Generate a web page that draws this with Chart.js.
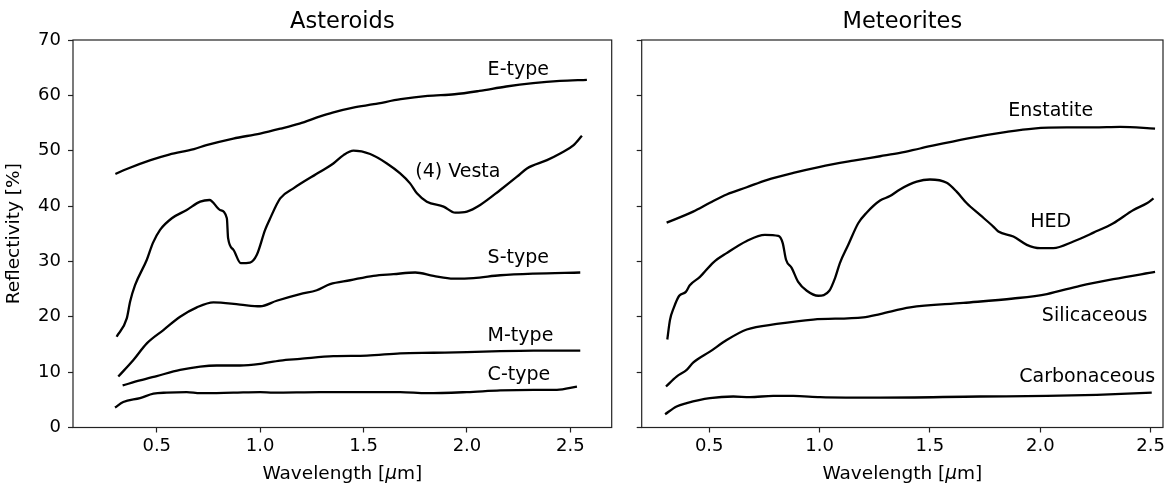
<!DOCTYPE html>
<html>
<head>
<meta charset="utf-8">
<script src="https://cdn.jsdelivr.net/npm/chart.js@4.4.1/dist/chart.umd.min.js"></script>
<style>
  html, body { margin: 0; padding: 0; background: #fff; }
  #wrap { position: relative; width: 1173px; height: 488px; }
  canvas { position: absolute; top: 0; }
  #asteroids { left: 0; }
  #meteorites { left: 625px; }
</style>
</head>
<body>
<div id="wrap">
  <canvas id="asteroids" width="625" height="488"></canvas>
  <canvas id="meteorites" width="548" height="488"></canvas>
</div>
<script>
// tick labels
const wavelengthTicks = [0.5, 1.0, 1.5, 2.0, 2.5];
const reflectivityTicks = [0, 10, 20, 30, 40, 50, 60, 70];

// --- Asteroids (left panel) ---
const eTypeWl   = [0.30, 0.355, 0.47, 0.56, 0.68, 0.74, 0.87, 1.0, 1.1, 1.19, 1.29, 1.35, 1.45, 1.55, 1.68, 1.81, 1.94, 2.06, 2.19, 2.32, 2.45, 2.58];
const eTypeRefl = [45.8, 46.7, 48.3, 49.3, 50.3, 51.0, 52.2, 53.1, 54.0, 54.9, 56.2, 56.9, 57.8, 58.4, 59.3, 59.9, 60.2, 60.8, 61.6, 62.2, 62.6, 62.8];

const vestaWl   = [0.306, 0.355, 0.371, 0.395, 0.452, 0.481, 0.516, 0.573, 0.645, 0.71, 0.755, 0.806, 0.839, 0.845, 0.871, 0.906, 0.951, 0.984, 1.024, 1.045, 1.097, 1.161, 1.29, 1.354, 1.403, 1.451, 1.532, 1.613, 1.677, 1.725, 1.758, 1.806, 1.887, 1.943, 2.0, 2.064, 2.161, 2.242, 2.29, 2.387, 2.451, 2.516, 2.556];
const vestaRefl = [16.4, 19.7, 22.7, 25.7, 30.3, 33.3, 35.7, 37.8, 39.3, 40.8, 41.1, 39.3, 37.8, 34.2, 32.1, 29.7, 29.8, 31.2, 35.7, 37.5, 41.4, 43.2, 46.2, 47.7, 49.2, 50.0, 49.4, 47.7, 45.9, 44.1, 42.3, 40.8, 39.9, 38.8, 39.0, 40.2, 42.9, 45.3, 46.8, 48.3, 49.5, 51.0, 52.7];

const sTypeWl   = [0.314, 0.387, 0.452, 0.532, 0.613, 0.694, 0.774, 0.903, 1.0, 1.08, 1.193, 1.274, 1.338, 1.435, 1.548, 1.645, 1.75, 1.838, 1.935, 2.032, 2.161, 2.322, 2.548];
const sTypeRefl = [9.2, 12.2, 15.2, 17.6, 20.0, 21.7, 22.6, 22.2, 21.9, 22.9, 24.1, 24.8, 25.9, 26.6, 27.4, 27.7, 28.0, 27.4, 26.9, 27.0, 27.5, 27.8, 28.0];

const mTypeWl   = [0.335, 0.419, 0.5, 0.613, 0.71, 0.79, 0.903, 1.0, 1.097, 1.193, 1.354, 1.516, 1.677, 1.838, 2.0, 2.161, 2.322, 2.548];
const mTypeRefl = [7.6, 8.5, 9.3, 10.4, 11.0, 11.2, 11.2, 11.5, 12.1, 12.4, 12.9, 13.0, 13.4, 13.5, 13.6, 13.8, 13.9, 13.9];

const cTypeWl   = [0.298, 0.338, 0.419, 0.484, 0.548, 0.645, 0.71, 0.871, 1.0, 1.064, 1.29, 1.516, 1.677, 1.806, 2.0, 2.161, 2.322, 2.435, 2.532];
const cTypeRefl = [3.6, 4.6, 5.3, 6.1, 6.3, 6.4, 6.2, 6.3, 6.4, 6.3, 6.4, 6.4, 6.4, 6.2, 6.4, 6.7, 6.8, 6.8, 7.4];

// --- Meteorites (right panel) ---
const enstatiteWl   = [0.307, 0.427, 0.503, 0.579, 0.67, 0.76, 0.881, 1.002, 1.153, 1.274, 1.364, 1.455, 1.667, 1.848, 1.969, 2.12, 2.241, 2.362, 2.52];
const enstatiteRefl = [37.0, 39.0, 40.6, 42.1, 43.4, 44.7, 46.0, 47.1, 48.2, 49.0, 49.6, 50.4, 52.2, 53.4, 54.0, 54.2, 54.2, 54.3, 54.0];

const hedWl   = [0.31, 0.322, 0.34, 0.364, 0.394, 0.412, 0.458, 0.518, 0.579, 0.67, 0.752, 0.813, 0.833, 0.848, 0.874, 0.903, 0.942, 0.994, 1.044, 1.07, 1.092, 1.13, 1.175, 1.213, 1.274, 1.319, 1.364, 1.44, 1.5, 1.576, 1.621, 1.667, 1.727, 1.787, 1.81, 1.878, 1.939, 1.999, 2.059, 2.15, 2.241, 2.331, 2.422, 2.483, 2.513];
const hedRefl = [15.9, 19.4, 21.7, 23.8, 24.5, 25.7, 27.2, 29.8, 31.5, 33.7, 34.8, 34.6, 33.3, 30.3, 28.8, 26.3, 24.7, 23.8, 24.7, 27.0, 29.7, 33.0, 36.9, 38.8, 41.0, 41.8, 43.0, 44.4, 44.8, 44.2, 42.6, 40.5, 38.4, 36.3, 35.4, 34.5, 33.0, 32.4, 32.4, 33.6, 35.2, 36.9, 39.3, 40.5, 41.4];

const silicaceousWl   = [0.304, 0.352, 0.398, 0.427, 0.503, 0.579, 0.67, 0.806, 0.971, 1.198, 1.274, 1.41, 1.651, 1.878, 2.03, 2.18, 2.331, 2.52];
const silicaceousRefl = [7.4, 9.2, 10.4, 11.7, 13.7, 15.8, 17.7, 18.7, 19.5, 19.9, 20.5, 21.7, 22.5, 23.3, 24.1, 25.6, 26.8, 28.1];

const carbonaceousWl   = [0.30, 0.352, 0.398, 0.503, 0.609, 0.684, 0.79, 0.881, 1.002, 1.274, 1.727, 2.03, 2.256, 2.505];
const carbonaceousRefl = [2.4, 3.8, 4.4, 5.3, 5.6, 5.5, 5.7, 5.7, 5.5, 5.4, 5.6, 5.7, 5.9, 6.3];

const FONT = "'DejaVu Sans', sans-serif";
const INK = '#000';

const toPoints = (xs, ys) => xs.map((x, i) => ({x, y: ys[i]}));

const curve = (xs, ys) => ({
    data: toPoints(xs, ys),
    borderColor: INK,
    borderWidth: 2.3,
    pointRadius: 0,
    fill: false,
    cubicInterpolationMode: 'monotone'
});

// box around the plot, panel title, x label (italic mu) and the in-plot curve names
const panelDecor = {
    id: 'panelDecor',
    afterDatasetsDraw(chart, args, opts) {
        const {ctx, chartArea: a, scales: {x, y}} = chart;
        const cx = (a.left + a.right) / 2;
        ctx.save();
        ctx.strokeStyle = '#222';
        ctx.lineWidth = 1.2;
        ctx.strokeRect(a.left, a.top, a.right - a.left, a.bottom - a.top);

        ctx.fillStyle = INK;
        ctx.font = `22.5px ${FONT}`;
        ctx.textAlign = 'center';
        ctx.textBaseline = 'alphabetic';
        ctx.fillText(opts.title, cx, a.top - 12);

        // "Wavelength [μm]" with the mu in italics, like mathtext
        const parts = [['Wavelength [', ''], ['μ', 'italic '], ['m]', '']];
        const widths = parts.map(([t, st]) => { ctx.font = `${st}18.5px ${FONT}`; return ctx.measureText(t).width; });
        let px = cx - widths.reduce((s, w) => s + w, 0) / 2;
        ctx.textAlign = 'left';
        ctx.textBaseline = 'middle';
        parts.forEach(([t, st], i) => {
            ctx.font = `${st}18.5px ${FONT}`;
            ctx.fillText(t, px, 474);
            px += widths[i];
        });

        ctx.font = `19px ${FONT}`;
        opts.labels.forEach(l => ctx.fillText(l.text, x.getPixelForValue(l.x), y.getPixelForValue(l.y)));
        ctx.restore();
    }
};

function makePanel(canvasId, datasets, cfg) {
    const tickGrid = {drawOnChartArea: false, drawTicks: true, tickLength: 5, tickWidth: 1.2, tickColor: '#222'};
    return new Chart(document.getElementById(canvasId), {
        type: 'line',
        data: {datasets},
        plugins: [panelDecor],
        options: {
            responsive: false,
            animation: false,
            events: [],
            layout: {padding: {top: 40, right: cfg.padRight, bottom: 0, left: 0}},
            plugins: {
                legend: {display: false},
                tooltip: {enabled: false},
                panelDecor: {title: cfg.title, labels: cfg.labels}
            },
            scales: {
                x: {
                    type: 'linear',
                    min: cfg.xMin,
                    max: cfg.xMax,
                    afterBuildTicks: s => { s.ticks = wavelengthTicks.map(v => ({value: v})); },
                    afterFit: s => { s.height = 60.5; },
                    grid: tickGrid,
                    border: {display: false},
                    ticks: {color: INK, font: {family: FONT, size: 18}, padding: 3, maxRotation: 0, autoSkip: false,
                            callback: v => v.toFixed(1)},
                    title: {display: false}
                },
                y: {
                    min: 0,
                    max: 70,
                    afterBuildTicks: s => { s.ticks = reflectivityTicks.map(v => ({value: v})); },
                    afterFit: s => { s.width = cfg.yWidth; },
                    grid: tickGrid,
                    border: {display: false},
                    ticks: {display: cfg.showY, color: INK, font: {family: FONT, size: 18}, padding: 7},
                    title: {display: cfg.showY, text: 'Reflectivity [%]', color: INK, font: {family: FONT, size: 18.5}, padding: {top: 3}}
                }
            }
        }
    });
}

makePanel('asteroids', [
    curve(eTypeWl, eTypeRefl),
    curve(vestaWl, vestaRefl),
    curve(sTypeWl, sTypeRefl),
    curve(mTypeWl, mTypeRefl),
    curve(cTypeWl, cTypeRefl)
], {
    title: 'Asteroids', xMin: 0.095, xMax: 2.70, yWidth: 73, padRight: 13.3, showY: true,
    labels: [
        {text: 'E-type', x: 2.10, y: 64.6},
        {text: '(4) Vesta', x: 1.75, y: 46.2},
        {text: 'S-type', x: 2.10, y: 30.6},
        {text: 'M-type', x: 2.10, y: 16.6},
        {text: 'C-type', x: 2.10, y: 9.4}
    ]
});

makePanel('meteorites', [
    curve(enstatiteWl, enstatiteRefl),
    curve(hedWl, hedRefl),
    curve(silicaceousWl, silicaceousRefl),
    curve(carbonaceousWl, carbonaceousRefl)
], {
    title: 'Meteorites', xMin: 0.194, xMax: 2.556, yWidth: 16.7, padRight: 10, showY: false,
    labels: [
        {text: 'Enstatite', x: 1.855, y: 57.2},
        {text: 'HED', x: 1.954, y: 37.1},
        {text: 'Silicaceous', x: 2.007, y: 20.2},
        {text: 'Carbonaceous', x: 1.905, y: 9.1}
    ]
});
</script>
</body>
</html>
